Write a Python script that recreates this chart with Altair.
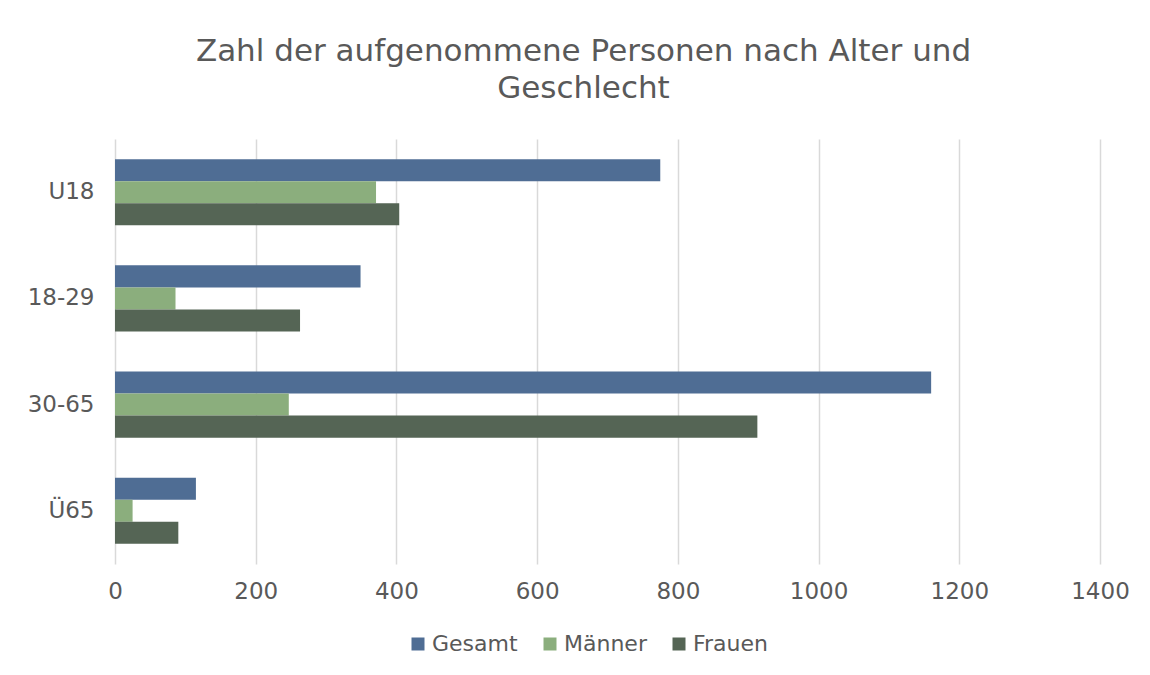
import altair as alt
import pandas as pd

categories = ["U18", "18-29", "30-65", "Ü65"]
series = ["Gesamt", "Männer", "Frauen"]
gesamt = [775, 349, 1160, 115]
maenner = [371, 86, 247, 25]
frauen = [404, 263, 913, 90]
colors = ["#4f6d94", "#8bae7d", "#556555"]
x_ticks = [0, 200, 400, 600, 800, 1000, 1200, 1400]

rows = []
for i, c in enumerate(categories):
    for s, vals in zip(series, [gesamt, maenner, frauen]):
        rows.append({"Alter": c, "Serie": s, "Wert": vals[i]})
df = pd.DataFrame(rows)

font = "DejaVu Sans"
grey = "#595959"

chart = alt.Chart(df).mark_bar().encode(
    y=alt.Y("Alter:N", sort=categories, title=None,
            scale=alt.Scale(paddingInner=0.377, paddingOuter=0.19),
            axis=alt.Axis(labelFontSize=23, labelColor=grey, labelFont=font,
                          ticks=False, domain=False, labelPadding=21,
                          minExtent=100, grid=False)),
    yOffset=alt.YOffset("Serie:N", sort=series, scale=alt.Scale(paddingInner=0, paddingOuter=0)),
    x=alt.X("Wert:Q", title=None,
            scale=alt.Scale(domain=[0, 1400], nice=False),
            axis=alt.Axis(values=x_ticks, format="d", labelFlush=False,
                          labelFontSize=23, labelColor=grey, labelFont=font,
                          ticks=False, domain=False, labelPadding=16,
                          grid=True, gridColor="#d9d9d9", gridWidth=1.5)),
    color=alt.Color("Serie:N", sort=series,
                    scale=alt.Scale(domain=series, range=colors),
                    legend=alt.Legend(title=None, orient="none", direction="horizontal",
                                      legendX=292, legendY=494,
                                      symbolType="square", symbolSize=169,
                                      symbolStrokeWidth=0,
                                      labelFontSize=22, labelColor=grey, labelFont=font,
                                      columnPadding=21, labelOffset=3)),
).properties(
    width=985,
    height=425,
    background="white",
    padding={"left": 7, "top": 28, "right": 5, "bottom": 5},
    title=alt.TitleParams(
        text=["Zahl der aufgenommene Personen nach Alter und", "Geschlecht"],
        fontSize=31, font=font, color=grey, fontWeight="normal",
        lineHeight=37, anchor="middle", dx=-24, offset=34,
    ),
).configure_view(stroke=None)

chart.save("out.html", embed_options={"renderer": "svg", "actions": False})
